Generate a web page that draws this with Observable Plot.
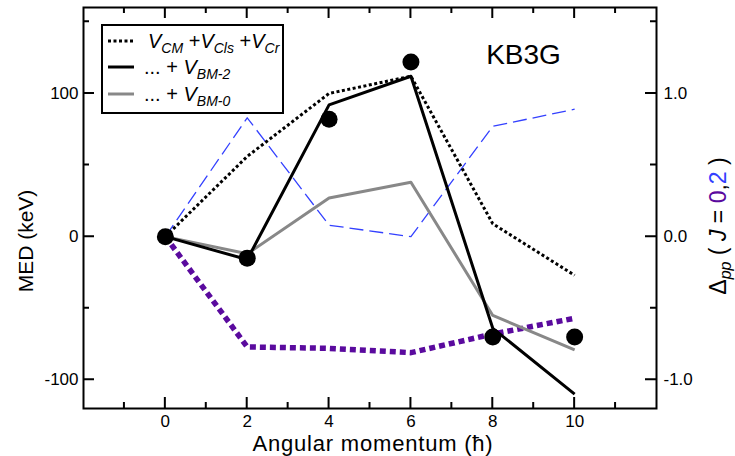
<!DOCTYPE html>
<html><head><meta charset="utf-8">
<script src="https://cdn.jsdelivr.net/npm/d3@7"></script>
<script src="https://cdn.jsdelivr.net/npm/@observablehq/plot@0.6"></script>
<style>
body{margin:0;background:#fff}
svg{font-family:"Liberation Sans",Arial,Helvetica,sans-serif}
</style>
</head><body><div id="chart"></div>
<script>
// ---- data ----
const angularMomentum = [0, 2, 4, 6, 8, 10];
const medExperiment   = [0, -15, 82, 122, -70, -70];
const medCoulomb      = [0, 56, 100, 112, 9, -27];   // V_CM + V_Cls + V_Cr
const medBM2          = [0, -16, 92, 112, -64, -110]; // ... + V_BM-2
const medBM0          = [0, -12, 27, 38, -55, -79];   // ... + V_BM-0
const deltaJ2         = [0.0, 0.83, 0.08, 0.0, 0.77, 0.89];
const deltaJ0         = [0.0, -0.77, -0.78, -0.81, -0.68, -0.57];
const xMajorTicks = [0, 2, 4, 6, 8, 10];
const xMinorTicks = [-1, 1, 3, 5, 7, 9, 11];
const yMajorTicks = [-100, 0, 100];
const yMinorTicks = [-50, 50, 150];
const xDomain = [-2, 12];
const yDomain = [-120, 160];
const rightFactor = 100; // right axis (Δpp) = MED / 100

const rows = angularMomentum.map((j, i) => ({
  j, exp: medExperiment[i], coul: medCoulomb[i], bm2: medBM2[i], bm0: medBM0[i],
  d2: deltaJ2[i] * rightFactor, d0: deltaJ0[i] * rightFactor
}));

const W = 735, H = 456, mL = 83, mR = 79, mT = 7, mB = 48;
const tickMaj = 11, tickMin = 6;
const font = "Liberation Sans, Arial, Helvetica, sans-serif";
const purple = "#5a0a9e", blue = "#3340ff", gray = "#888888";

const chart = Plot.plot({
  width: W, height: H,
  marginLeft: mL, marginRight: mR, marginTop: mT, marginBottom: mB,
  style: {fontFamily: font, fontSize: "17px", background: "white", color: "black"},
  x: {domain: xDomain},
  y: {domain: yDomain},
  marks: [
    Plot.line(rows, {x: "j", y: "d2", stroke: blue, strokeWidth: 1.3, strokeDasharray: "14,6", strokeLinecap: "butt"}),
    Plot.line(rows, {x: "j", y: "d0", stroke: purple, strokeWidth: 5.5, strokeDasharray: "6,4", strokeLinecap: "butt", strokeLinejoin: "miter"}),
    Plot.line(rows, {x: "j", y: "coul", stroke: "black", strokeWidth: 3, strokeDasharray: "3,2.5", strokeLinecap: "butt", strokeLinejoin: "miter"}),
    Plot.line(rows, {x: "j", y: "bm0", stroke: gray, strokeWidth: 3, strokeLinecap: "butt"}),
    Plot.line(rows, {x: "j", y: "bm2", stroke: "black", strokeWidth: 3, strokeLinecap: "butt"}),
    Plot.dot(rows, {x: "j", y: "exp", r: 8.5, fill: "black", stroke: null}),
    // tick labels
    Plot.axisX(xMajorTicks, {anchor: "bottom", tickSize: 0, tickPadding: 6, label: null, fontSize: 17, tickFormat: d => String(d)}),
    Plot.axisY(yMajorTicks, {anchor: "left", tickSize: 0, tickPadding: 5, label: null, fontSize: 17, tickFormat: d => String(d)}),
    Plot.axisY(yMajorTicks, {anchor: "right", tickSize: 0, tickPadding: 7, label: null, fontSize: 17, tickFormat: d => (d / rightFactor).toFixed(1)}),
    // axis titles
    Plot.text(["Angular momentum (ħ)"], {text: d => d, frameAnchor: "bottom", textAnchor: "middle", dx: 3, dy: 35, fontSize: 22, lineAnchor: "middle"}),
    Plot.text(["MED (keV)"], {text: d => d, frameAnchor: "left", textAnchor: "middle", dx: -57, dy: 33, rotate: -90, fontSize: 21, lineAnchor: "middle"}),
    Plot.text(["RTITLE"], {text: d => d, frameAnchor: "right", textAnchor: "middle", dx: 62, dy: 18, rotate: -90, fontSize: 23, lineAnchor: "middle"}),
    Plot.text(["KB3G"], {text: d => d, frameAnchor: "top-left", textAnchor: "middle", dx: 440, dy: 48, fontSize: 28, lineAnchor: "middle"}),
    Plot.frame({stroke: "black", strokeWidth: 2})
  ]
});
document.getElementById("chart").appendChild(chart);
const svg = d3.select(chart);

// inward ticks on all four sides, positioned with the plot's own scales
const x0 = mL, x1 = W - mR, y0 = mT, y1 = H - mB;
let sx, sy;
try { sx = chart.scale("x"); sy = chart.scale("y"); } catch (e) {}
const fx = v => { const p = sx && sx.apply ? sx.apply(v) : NaN; return isFinite(p) ? p : x0 + (v - xDomain[0]) / (xDomain[1] - xDomain[0]) * (x1 - x0); };
const fy = v => { const p = sy && sy.apply ? sy.apply(v) : NaN; return isFinite(p) ? p : y1 - (v - yDomain[0]) / (yDomain[1] - yDomain[0]) * (y1 - y0); };
let d = "";
xMajorTicks.forEach(v => { const p = fx(v); d += `M${p},${y1}V${y1 - tickMaj}M${p},${y0}V${y0 + tickMaj}`; });
xMinorTicks.forEach(v => { const p = fx(v); d += `M${p},${y1}V${y1 - tickMin}M${p},${y0}V${y0 + tickMin}`; });
yMajorTicks.forEach(v => { const p = fy(v); d += `M${x0},${p}H${x0 + tickMaj}M${x1},${p}H${x1 - tickMaj}`; });
yMinorTicks.forEach(v => { const p = fy(v); d += `M${x0},${p}H${x0 + tickMin}M${x1},${p}H${x1 - tickMin}`; });
svg.append("path").attr("d", d).attr("fill", "none").attr("stroke", "#000").attr("stroke-width", 2);

// slightly wider spacing for the x-axis title, as in the reference
svg.selectAll("text").filter(function(){ return this.textContent === "Angular momentum (ħ)"; })
  .attr("letter-spacing", "0.8px");

// rich text for right axis title
svg.selectAll("text").filter(function(){ return this.textContent === "RTITLE"; }).each(function(){
  const t = d3.select(this); t.text("");
  t.append("tspan").text("Δ");
  t.append("tspan").attr("font-style", "italic").attr("font-size", 16).attr("dy", 5).text("pp");
  t.append("tspan").attr("dy", -5).text(" ( ");
  t.append("tspan").attr("font-style", "italic").text("J");
  t.append("tspan").text(" = ");
  t.append("tspan").attr("fill", purple).text("0");
  t.append("tspan").text(",");
  t.append("tspan").attr("fill", blue).text("2");
  t.append("tspan").text(" )");
});

// legend
const legendItems = [
  {dash: "3,2.5", color: "black", parts: [["V",0],["CM",1],[" +",0],["V",0],["Cls",1],[" +",0],["V",0],["Cr",1]], x: 148},
  {dash: null, color: "black", parts: [["... + ",0],["V",0],["BM-2",1]], x: 144},
  {dash: null, color: gray, parts: [["... + ",0],["V",0],["BM-0",1]], x: 144}
];
const leg = svg.append("g").attr("text-anchor", "start");
leg.append("rect").attr("x", 102).attr("y", 25).attr("width", 181).attr("height", 88)
  .attr("fill", "white").attr("stroke", "black").attr("stroke-width", 2);
const rowY = [41, 67, 94];
legendItems.forEach((it, i) => {
  leg.append("line").attr("x1", 108).attr("x2", 134).attr("y1", rowY[i]).attr("y2", rowY[i])
    .attr("stroke", it.color).attr("stroke-width", 3).attr("stroke-dasharray", it.dash);
  const t = leg.append("text").attr("x", it.x).attr("y", rowY[i] + 7).attr("font-size", 20)
    .attr("font-family", font).attr("text-anchor", "start");
  let sub = false;
  it.parts.forEach(([s, isSub]) => {
    const ts = t.append("tspan").text(s);
    if (s === "V" || isSub) ts.attr("font-style", "italic");
    if (isSub) ts.attr("font-size", 14);
    if (isSub && !sub) { ts.attr("dy", 5); sub = true; }
    else if (!isSub && sub) { ts.attr("dy", -5); sub = false; }
  });
});
</script>
</body></html>
